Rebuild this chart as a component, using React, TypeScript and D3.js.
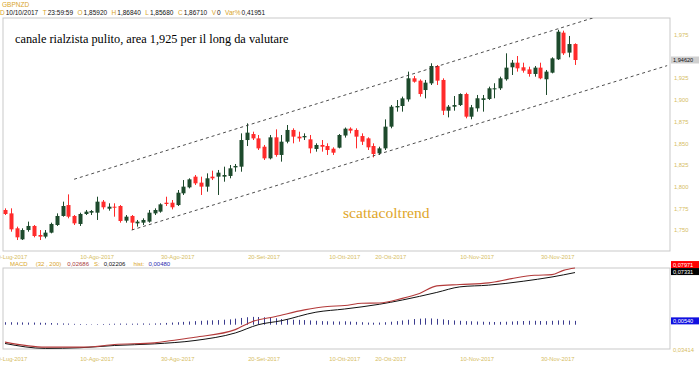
import React from "react";
import * as d3 from "d3";

// candles, 19-Lug-2017 .. 05-Dic-2017 (business days)
const opens = [
  1.7734, 1.7695, 1.7523, 1.7396, 1.7503, 1.755, 1.7446, 1.7427, 1.7473, 1.7561,
  1.7665, 1.7791, 1.7665, 1.7573, 1.7688, 1.7703, 1.7703, 1.783, 1.7749, 1.7772,
  1.778, 1.7611, 1.7665, 1.758, 1.7588, 1.76, 1.7695, 1.7715, 1.7818, 1.7818,
  1.7791, 1.7926, 1.7995, 1.8118, 1.8049, 1.8003, 1.8118, 1.8118, 1.8118, 1.8126,
  1.8225, 1.8233, 1.854, 1.8609, 1.8559, 1.8463, 1.8329, 1.8571, 1.8368, 1.8521,
  1.8656, 1.8579, 1.8571, 1.8548, 1.8437, 1.8483, 1.8471, 1.844, 1.8452, 1.8592,
  1.8671, 1.8656, 1.8586, 1.8559, 1.8471, 1.8387, 1.8444, 1.8694, 1.8916, 1.8932,
  1.9008, 1.9251, 1.9224, 1.9116, 1.9193, 1.9393, 1.9232, 1.8878, 1.8924, 1.8943,
  1.907, 1.8809, 1.8905, 1.9002, 1.9013, 1.9124, 1.9136, 1.924, 1.9378, 1.9431,
  1.9378, 1.9354, 1.9301, 1.9374, 1.924, 1.9316, 1.947, 1.9777, 1.9547, 1.9646
];
const highs = [
  1.7753, 1.7753, 1.7542, 1.7523, 1.76, 1.7561, 1.7503, 1.7503, 1.7588, 1.7695,
  1.783, 1.7914, 1.7676, 1.7703, 1.7734, 1.7734, 1.7887, 1.7849, 1.7811, 1.7811,
  1.7791, 1.7676, 1.7676, 1.7619, 1.7638, 1.7734, 1.7753, 1.7811, 1.7887, 1.7849,
  1.7964, 1.8079, 1.8099, 1.8137, 1.8118, 1.8156, 1.8187, 1.8195, 1.8233, 1.8252,
  1.8264, 1.8617, 1.8732, 1.8636, 1.8598, 1.8483, 1.8598, 1.8663, 1.8598, 1.8713,
  1.8675, 1.8636, 1.8617, 1.8598, 1.8502, 1.854, 1.8502, 1.8456, 1.8609, 1.8684,
  1.8686, 1.8675, 1.8617, 1.8571, 1.8502, 1.8463, 1.8778, 1.8943, 1.9001, 1.904,
  1.9328, 1.9278, 1.9239, 1.9232, 1.9424, 1.9404, 1.9251, 1.8943, 1.9047, 1.9078,
  1.9085, 1.8944, 1.9059, 1.9059, 1.9155, 1.9194, 1.927, 1.9539, 1.9462, 1.9508,
  1.9431, 1.9385, 1.9393, 1.9431, 1.9347, 1.9493, 1.981, 1.98, 1.9739, 1.9654
];
const lows = [
  1.7676, 1.7484, 1.7388, 1.7388, 1.7484, 1.7419, 1.7388, 1.7407, 1.7465, 1.755,
  1.7657, 1.7638, 1.7561, 1.755, 1.7676, 1.7676, 1.7619, 1.7741, 1.7726, 1.7657,
  1.7588, 1.7588, 1.7503, 1.7542, 1.7561, 1.7588, 1.7676, 1.7703, 1.778, 1.7741,
  1.778, 1.7907, 1.7983, 1.8022, 1.7907, 1.7945, 1.8079, 1.7907, 1.806, 1.8099,
  1.8175, 1.8175, 1.8471, 1.854, 1.8425, 1.831, 1.8317, 1.8348, 1.8291, 1.8502,
  1.8502, 1.8521, 1.854, 1.8387, 1.8406, 1.8406, 1.8368, 1.8368, 1.8444, 1.8568,
  1.8617, 1.8444, 1.8483, 1.8425, 1.834, 1.8368, 1.8425, 1.8675, 1.8867, 1.8867,
  1.8982, 1.9201, 1.904, 1.902, 1.9174, 1.9174, 1.8828, 1.8801, 1.8878, 1.8932,
  1.879, 1.8779, 1.8867, 1.8867, 1.9002, 1.9021, 1.9117, 1.9224, 1.9289, 1.9328,
  1.9316, 1.927, 1.927, 1.924, 1.9059, 1.9308, 1.9462, 1.952, 1.9493, 1.9405
];
const closes = [
  1.7688, 1.7511, 1.7419, 1.7503, 1.755, 1.7434, 1.7427, 1.7473, 1.7573, 1.7665,
  1.778, 1.7657, 1.758, 1.7688, 1.7715, 1.7722, 1.783, 1.7765, 1.7772, 1.7765,
  1.7607, 1.7657, 1.7588, 1.76, 1.7619, 1.7703, 1.7734, 1.7799, 1.7803, 1.7765,
  1.7933, 1.8003, 1.8087, 1.8041, 1.8003, 1.8099, 1.8099, 1.8164, 1.8137, 1.8214,
  1.8241, 1.854, 1.8625, 1.8559, 1.8444, 1.8329, 1.8571, 1.8368, 1.8521, 1.8656,
  1.8579, 1.8559, 1.8586, 1.8444, 1.8483, 1.8463, 1.8425, 1.8394, 1.8598, 1.8671,
  1.8648, 1.8579, 1.8521, 1.8456, 1.8379, 1.8444, 1.8694, 1.8924, 1.8932, 1.902,
  1.9251, 1.9212, 1.907, 1.9201, 1.9393, 1.9224, 1.8878, 1.8924, 1.8943, 1.907,
  1.8809, 1.8917, 1.9021, 1.9021, 1.9136, 1.9136, 1.9251, 1.9374, 1.9431, 1.9366,
  1.9339, 1.9301, 1.9374, 1.9251, 1.9328, 1.9481, 1.9788, 1.9539, 1.9646, 1.9462
];

// MACD (32, 200): [candle index, value]
const macdPoints = [
  [0, -0.0245], [7, -0.0315], [14, -0.0315], [19, -0.0278], [26, -0.0255],
  [29, -0.0222], [33, -0.0176], [40, -0.0069], [43, 0.0046], [47, 0.0116],
  [52, 0.0208], [56, 0.0255], [59, 0.0269], [62, 0.0301], [65, 0.0305],
  [69, 0.037], [72, 0.044], [75, 0.0546], [79, 0.0565], [84, 0.0588],
  [88, 0.0648], [92, 0.0695], [95, 0.0704], [97, 0.0764], [99, 0.0797]
];
const signalPoints = [
  [0, -0.0264], [7, -0.0333], [13, -0.0324], [19, -0.0292], [26, -0.0269],
  [33, -0.0222], [40, -0.0116], [44, 0], [48, 0.0056], [54, 0.0176],
  [59, 0.0221], [65, 0.0287], [69, 0.0347], [75, 0.0454], [79, 0.0532],
  [84, 0.0556], [90, 0.0611], [95, 0.0671], [99, 0.0733]
];
const histValues = [
  0.0035, 0.0035, 0.0033, 0.0032, 0.003, 0.003, 0.0028, 0.0026, 0.0024,
  0.002, 0.0018, 0.0016, 0.0012, 0.001, 0.0008, 0.0006, 0.0008, 0.001, 0.0012,
  0.0014, 0.0016, 0.0015, 0.0014, 0.0016, 0.0018,
  0.0015, 0.0018, 0.002, 0.0025, 0.003, 0.0035,
  0.004, 0.0045, 0.005, 0.0055, 0.006, 0.0062, 0.0065, 0.007, 0.0075,
  0.0085, 0.0095, 0.0105, 0.011, 0.0108, 0.0105, 0.0098, 0.009,
  0.008, 0.0075, 0.007, 0.0068, 0.0065,
  0.006, 0.0055, 0.005, 0.0048, 0.0046, 0.0045, 0.0048, 0.0044, 0.004, 0.0035,
  0.003, 0.0028,
  0.003, 0.0035, 0.0042, 0.005, 0.006, 0.007, 0.008, 0.0085, 0.009, 0.0088,
  0.0082, 0.0075,
  0.0065, 0.006, 0.0055, 0.005, 0.0048, 0.0045, 0.0042,
  0.004, 0.0038, 0.004, 0.0042, 0.0045,
  0.005, 0.0052, 0.0055, 0.0055, 0.0052, 0.005,
  0.0055, 0.006, 0.0062, 0.0058, 0.0054
];

// trend channel drawn on the chart: [candle index, price]
const upperChannel = [[12, 1.8088], [116, 2.0233]];
const lowerChannel = [[22, 1.7503], [115, 1.9397]];

const priceTicks = [1.75, 1.775, 1.8, 1.825, 1.85, 1.875, 1.9, 1.925, 1.95, 1.975];
const tickDates = ["2017-07-20", "2017-08-10", "2017-08-30", "2017-09-20", "2017-10-10", "2017-10-20", "2017-11-10", "2017-11-30"];
const tickLabels = ["20-Lug-2017", "10-Ago-2017", "30-Ago-2017", "20-Set-2017", "10-Ott-2017", "20-Ott-2017", "10-Nov-2017", "30-Nov-2017"];

const headerItems = [
  ["D", "10/10/2017"], ["T", "23:59:59"], ["O", "1,85920"], ["H", "1,86840"],
  ["L", "1,85680"], ["C", "1,86710"], ["V", "0"], ["Var%", "0,41951"]
];

const lastPrice = 1.9462;
const macdLast = 0.07971;
const signalLast = 0.07331;
const histLast = 0.0054;
const macdMin = -0.03414;

const GOLD = "#d9a52a";
const AXIS = "#d6bd63";
const RED = "#ff2b2b";
const GREEN = "#1d4a2c";
const SANS = "'Liberation Sans', Arial, sans-serif";
const SERIF = "'Liberation Serif', 'Times New Roman', serif";

const it = d3.formatLocale({ decimal: ",", thousands: ".", grouping: [3], currency: ["€", ""] });
const f3 = it.format(".3f");
const f5 = it.format(".5f");

export default function App() {
  const dates = d3.timeDay
    .range(new Date(2017, 6, 19), new Date(2017, 11, 6))
    .filter(d => d.getDay() !== 0 && d.getDay() !== 6);
  const key = d3.timeFormat("%Y-%m-%d");
  const dateKeys = dates.map(key);

  const plot = { left: 3, right: 670, top: 18, bottom: 251 };
  const lower = { top: 268, bottom: 349 };

  const x = d3.scaleLinear().domain([0, 99]).range([5, 575]);
  const y = d3.scaleLinear().domain([1.75, 1.975]).range([230.3, 35]);
  const ym = d3.scaleLinear().domain([macdMin, macdLast]).range([lower.bottom, lower.top]);

  const bodyW = 4;
  const chanLine = d3.line<number[]>().x(d => x(d[0])).y(d => y(d[1]));
  const macdLine = d3.line<number[]>().x(d => x(d[0])).y(d => ym(d[1])).curve(d3.curveMonotoneX);

  const priceY = y(lastPrice);
  const sigY = ym(signalLast) - 1;
  const macdY = sigY - 7;
  const histY = ym(histLast);

  const tickX = tickDates.map(t => x(dateKeys.indexOf(t)));

  const boxLabel = (cy: number, fill: string, txt: string, color: string) => (
    <g>
      <rect x={671} y={cy - 3.5} width={28} height={7} fill={fill} />
      <text x={673} y={cy} dominantBaseline="central" fontSize={5.6} fill={color} fontFamily={SANS}>{txt}</text>
    </g>
  );

  return (
    <svg width={700} height={365} style={{ position: "absolute", left: 0, top: 0, background: "#fff" }}>
      <defs>
        <clipPath id="mainClip">
          <rect x={plot.left} y={plot.top} width={plot.right - plot.left} height={plot.bottom - plot.top} />
        </clipPath>
      </defs>

      {/* header */}
      <text x={2} y={7} fontSize={6.5} fill={GOLD} fontFamily={SANS}>GBPNZD</text>
      <text x={0} y={15} fontSize={6.5} fontFamily={SANS}>
        {headerItems.map(([l, v], i) => (
          <React.Fragment key={i}>
            <tspan fill={GOLD} dx={i === 0 ? 0 : 4.5}>{l}</tspan>
            <tspan fill="#111" dx={1}>{v}</tspan>
          </React.Fragment>
        ))}
      </text>

      {/* main panel */}
      <rect x={plot.left} y={plot.top} width={plot.right - plot.left} height={plot.bottom - plot.top} fill="none" stroke="#c9c9c9" />

      <g clipPath="url(#mainClip)">
        {opens.map((o, i) => {
          const c = closes[i];
          const col = c >= o ? GREEN : RED;
          const cx = Math.round(x(i)) + 0.5;
          const top = y(Math.max(o, c));
          const h = Math.max(1, y(Math.min(o, c)) - top);
          return (
            <g key={i}>
              <line x1={cx} x2={cx} y1={y(highs[i])} y2={y(lows[i])} stroke={col} strokeWidth={1} />
              <rect x={cx - bodyW / 2} y={top} width={bodyW} height={h} fill={col} />
            </g>
          );
        })}
        <path d={chanLine(upperChannel) || ""} fill="none" stroke="#3a3a3a" strokeWidth={0.9} strokeDasharray="3,3" />
        <path d={chanLine(lowerChannel) || ""} fill="none" stroke="#3a3a3a" strokeWidth={0.9} strokeDasharray="3,3" />
      </g>

      <text x={15} y={43} fontSize={12.3} fontFamily={SERIF} fill="#000">canale rialzista pulito, area 1,925 per il long da valutare</text>
      <text x={343} y={218} fontSize={15.6} fontFamily={SERIF} fill="#e0a62a">scattacoltrend</text>

      {/* price axis */}
      {priceTicks.filter(t => Math.abs(y(t) - priceY) > 6).map(t => (
        <text key={t} x={674} y={y(t)} dominantBaseline="central" fontSize={5.8} fill={AXIS} fontFamily={SANS}>{f3(t)}</text>
      ))}
      {boxLabel(priceY, "#cfcfcf", f5(lastPrice), "#111")}

      {/* date axis */}
      {tickLabels.map((t, i) => (
        <text key={t} x={tickX[i]} y={257} textAnchor="middle" dominantBaseline="central" fontSize={5.8} fill={AXIS} fontFamily={SANS}>{t}</text>
      ))}

      {/* MACD header */}
      <text x={10} y={263.5} fontSize={6} fontFamily={SANS} dominantBaseline="central">
        <tspan fill={GOLD}>MACD</tspan>
        <tspan fill={GOLD} dx={8}>(32 , 200)</tspan>
        <tspan fill="#a83a3a" dx={6}>0,02686</tspan>
        <tspan fill={GOLD} dx={5}>S:</tspan>
        <tspan fill="#111" dx={4}>0,02206</tspan>
        <tspan fill={GOLD} dx={8}>hist:</tspan>
        <tspan fill="#2b2bb0" dx={4}>0,00480</tspan>
      </text>

      {/* MACD panel */}
      <rect x={plot.left} y={lower.top} width={plot.right - plot.left} height={lower.bottom - lower.top} fill="none" stroke="#c9c9c9" />
      {histValues.map((v, i) => (
        <line key={i} x1={Math.round(x(i)) + 0.5} x2={Math.round(x(i)) + 0.5} y1={ym(0)} y2={ym(v)} stroke="#3b3b8e" strokeWidth={1} />
      ))}
      <path d={macdLine(signalPoints) || ""} fill="none" stroke="#111" strokeWidth={1} />
      <path d={macdLine(macdPoints) || ""} fill="none" stroke="#b33a3a" strokeWidth={1.1} />

      {boxLabel(macdY, "#ff0000", f5(macdLast), "#fff")}
      {boxLabel(sigY, "#000", f5(signalLast), "#fff")}
      {boxLabel(histY, "#1010e0", f5(histLast), "#fff")}
      <text x={673} y={350} dominantBaseline="central" fontSize={5.8} fill={AXIS} fontFamily={SANS}>{f5(-macdMin)}</text>

      {tickLabels.map((t, i) => (
        <text key={"m" + t} x={tickX[i]} y={359} textAnchor="middle" dominantBaseline="central" fontSize={5.8} fill={AXIS} fontFamily={SANS}>{t}</text>
      ))}
    </svg>
  );
}
